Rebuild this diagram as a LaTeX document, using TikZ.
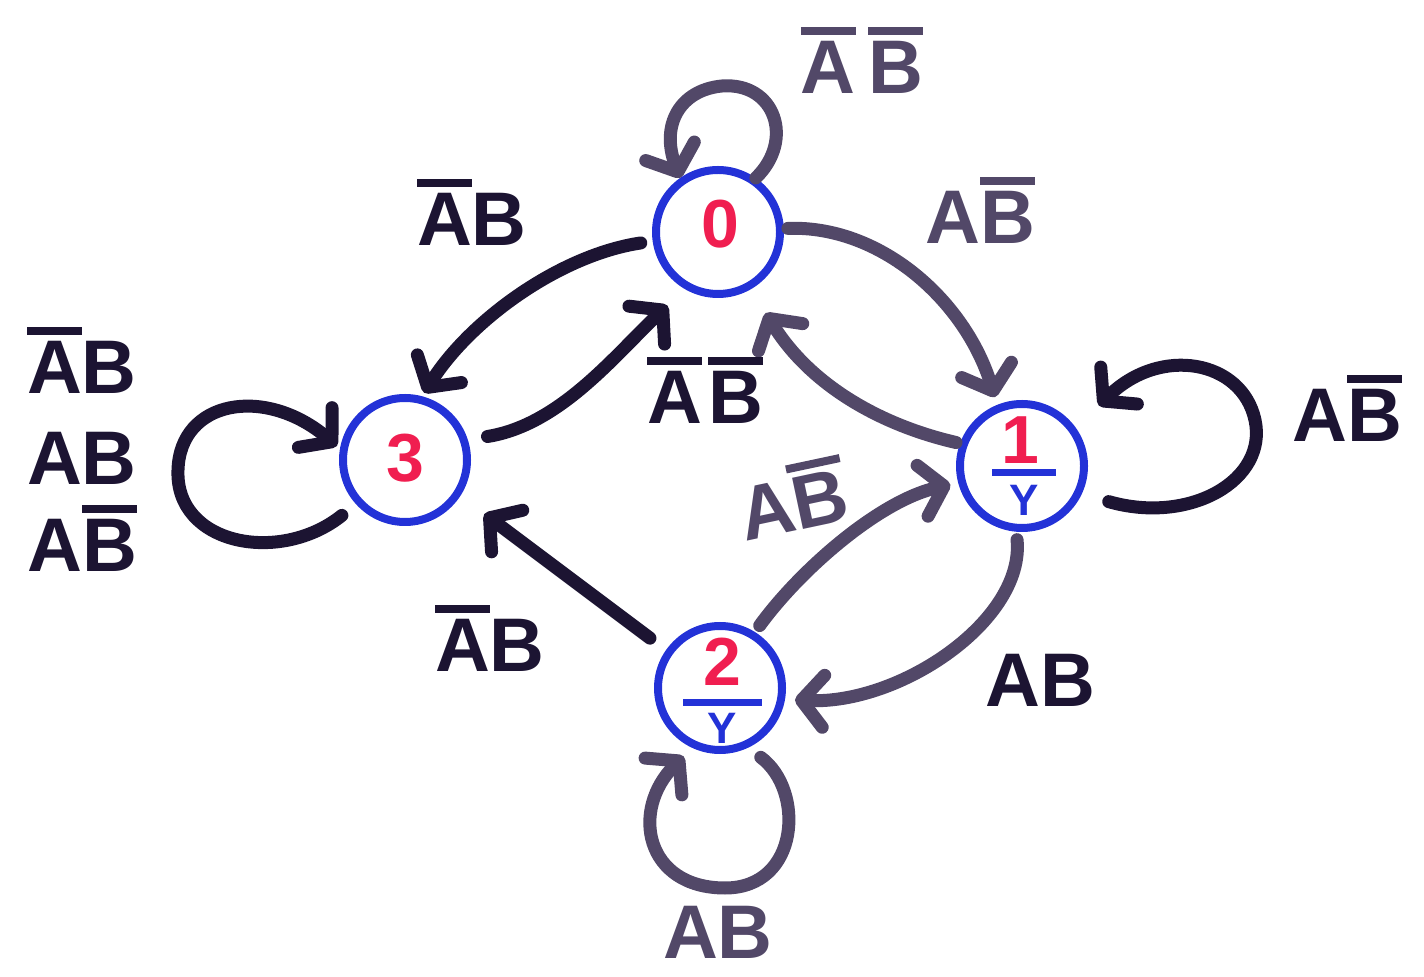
\documentclass[tikz,border=0pt]{standalone}
\usepackage{fontspec}
\setmainfont{Liberation Sans}
\usetikzlibrary{arrows.meta}
\definecolor{ink}{RGB}{28,20,50}
\definecolor{inkg}{RGB}{82,72,104}
\definecolor{cblue}{RGB}{35,50,215}
\definecolor{cred}{RGB}{240,30,80}
\newcommand\ovl[1]{\vbox{\hrule height 4pt\kern3pt\hbox{#1}}}
\tikzset{
  stnode/.style={circle, draw=cblue, line width=4pt, minimum size=62pt, inner sep=0pt},
  lbl/.style={font=\fontsize{38}{40}\selectfont\bfseries, text=ink, inner sep=0pt},
  lblg/.style={lbl, text=inkg},
  num/.style={font=\fontsize{34}{36}\selectfont\bfseries, text=cred, inner sep=0pt},
  ynum/.style={font=\fontsize{22}{24}\selectfont\bfseries, text=cblue, inner sep=0pt},
  arrk/.style={draw=ink, line width=6.5pt, line cap=round,
    -{Straight Barb[length=11pt,width=26pt,round]}},
  arrg/.style={arrk, draw=inkg},
}
\begin{document}
\begin{tikzpicture}[x=0.5pt,y=-0.5pt]
\useasboundingbox (0,0) rectangle (1424,977);
% states
\node[stnode] (n0) at (718,232) {};
\node[stnode] (n1) at (1022,466) {};
\node[stnode] (n2) at (720,688) {};
\node[stnode] (n3) at (405,460) {};
% state texts
\node[num] (t0) at (720,224) {0};
\node[num] (t3) at (405,458) {3};
\node[num] (t1) at (1020,440) {1};
\draw[cblue, line width=3.5pt] (992,473) -- (1056,473);
\node[ynum] (y1) at (1024,500) {Y};
\node[num] (t2) at (722,662) {2};
\draw[cblue, line width=3.5pt] (683,703) -- (762,703);
\node[ynum] (y2) at (722,728) {Y};
% self loops
\draw[arrg] (n0.55) .. controls (795,140) and (775,82) .. (722,86)
   .. controls (680,90) and (660,125) .. (n0.125);
\draw[arrk, shorten <=14pt, shorten >=16pt] (n1.-25) .. controls (1190,525) and (1268,480) .. (1255,420)
   .. controls (1242,360) and (1160,345) .. (n1.35);
\draw[arrg, shorten <=8pt, shorten >=6pt] (n2.-65) .. controls (805,790) and (800,888) .. (725,888)
   .. controls (645,888) and (630,810) .. (n2.-115);
\draw[arrk, shorten <=9pt, shorten >=2pt] (n3.222) .. controls (280,565) and (175,545) .. (178,470)
   .. controls (180,400) and (265,385) .. (n3.170);
% transitions
\draw[arrk, shorten <=6pt, shorten >=2pt] (n0.188) .. controls (560,255) and (470,320) .. (n3.75);
\draw[arrk, shorten <=10pt, shorten >=12pt] (n3.18) .. controls (560,425) and (615,355) .. (n0.240);
\draw[arrg, shorten <=2pt, shorten >=4pt] (n0.3) .. controls (880,225) and (965,300) .. (n1.112);
\draw[arrg, shorten <=2pt, shorten >=14pt] (n1.160) .. controls (880,425) and (810,385) .. (n0.300);
\draw[arrg, shorten <=4pt, shorten >=5pt] (n1.-95) .. controls (1025,620) and (900,705) .. (n2.-10);
\draw[arrg, shorten <=4pt, shorten >=4pt] (n2.58) .. controls (800,570) and (880,500) .. (n1.195);
\draw[arrk, shorten <=10pt, shorten >=15pt] (n2.145) -- (n3.-33);
% labels
\node[lblg] (l00) at (862,60) {\ovl{A}\,\ovl{B}};
\node[lbl] (l03) at (472,212) {\ovl{A}B};
\node[lblg] (l01) at (980,210) {A\ovl{B}};
\node[lbl] (l30) at (705,390) {\ovl{A}\kern3pt\ovl{B}};
\node[lbl] (l33a) at (82,360) {\ovl{A}B};
\node[lbl] (l33b) at (82,458) {AB};
\node[lbl] (l33c) at (82,538) {A\ovl{B}};
\node[lbl] (l11) at (1347,408) {A\ovl{B}};
\node[lblg, rotate=12] (l21) at (792,498) {A\ovl{B}};
\node[lbl] (l23) at (490,638) {\ovl{A}B};
\node[lbl] (l12) at (1040,680) {AB};
\node[lblg] (l22) at (718,932) {AB};
\end{tikzpicture}
\end{document}
